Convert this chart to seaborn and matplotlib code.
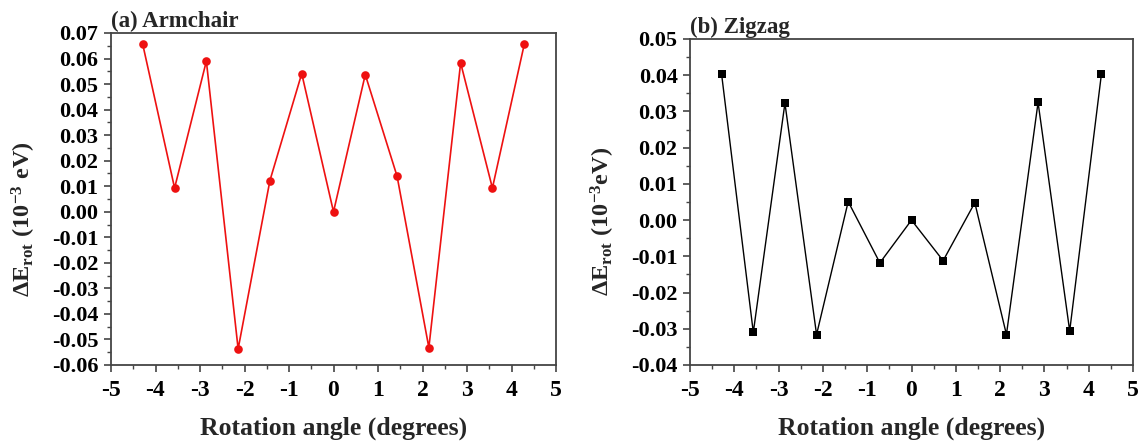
import numpy as np
import pandas as pd
import matplotlib
matplotlib.use("Agg")
import matplotlib.pyplot as plt
import seaborn as sns
from matplotlib.ticker import MultipleLocator, FormatStrFormatter

angles = [-4.286, -3.571, -2.857, -2.143, -1.429, -0.714, 0.0, 0.714, 1.429, 2.143, 2.857, 3.571, 4.286]
armchair = [0.0655, 0.0093, 0.0590, -0.0537, 0.0122, 0.0541, 0.0, 0.0537, 0.0139, -0.0532, 0.0583, 0.0093, 0.0655]
zigzag = [0.0402, -0.0310, 0.0323, -0.0316, 0.0051, -0.0118, 0.0, -0.0112, 0.0048, -0.0316, 0.0325, -0.0306, 0.0402]

sns.set_theme(style="ticks")
plt.rcParams['font.family'] = ['Liberation Serif', 'DejaVu Serif']
plt.rcParams['font.weight'] = 'bold'
plt.rcParams['axes.unicode_minus'] = False
plt.rcParams['mathtext.fontset'] = 'custom'
plt.rcParams['mathtext.rm'] = 'Liberation Serif:bold'
plt.rcParams['mathtext.bf'] = 'Liberation Serif:bold'
plt.rcParams['mathtext.it'] = 'Liberation Serif:bold'

W, H = 1140, 441
fig = plt.figure(figsize=(W / 100, H / 100), dpi=100)
ax1 = fig.add_axes([111 / W, 1 - 365 / H, (556 - 111) / W, (365 - 33) / H])
ax2 = fig.add_axes([690 / W, 1 - 365 / H, (1133 - 690) / W, (365 - 39) / H])

df1 = pd.DataFrame({"angle": angles, "E": armchair})
df2 = pd.DataFrame({"angle": angles, "E": zigzag})

sns.lineplot(data=df1, x="angle", y="E", ax=ax1, color="#ee1111", marker="o",
             markersize=6.2, markeredgewidth=0, linewidth=1.2)
sns.lineplot(data=df2, x="angle", y="E", ax=ax2, color="black", marker="s",
             markersize=5.3, markeredgewidth=0, linewidth=1.0)

ylabs = [r'$\mathbf{\Delta E_{rot}\ (10^{-3}\ eV)}$', r'$\mathbf{\Delta E_{rot}\ (10^{-3}eV)}$']
for ax, lims, title, ylab in [(ax1, (-0.06, 0.07), "(a) Armchair", ylabs[0]),
                              (ax2, (-0.04, 0.05), "(b) Zigzag", ylabs[1])]:
    ax.set_xlim(-5, 5)
    ax.set_ylim(*lims)
    ax.xaxis.set_major_locator(MultipleLocator(1))
    ax.xaxis.set_minor_locator(MultipleLocator(0.5))
    ax.yaxis.set_major_locator(MultipleLocator(0.01))
    ax.yaxis.set_minor_locator(MultipleLocator(0.005))
    ax.yaxis.set_major_formatter(FormatStrFormatter('%.2f'))
    ax.tick_params(which='major', direction='out', length=5, width=1.2, labelsize=16,
                   top=False, right=False, colors='#444444', labelcolor='black')
    ax.tick_params(which='minor', direction='out', length=3, width=1.0,
                   top=False, right=False, colors='#444444')
    ax.tick_params(axis='x', which='major', pad=6, labelsize=17)
    ax.tick_params(axis='y', which='major', pad=4)
    for lab in ax.get_xticklabels() + ax.get_yticklabels():
        lab.set_fontweight('bold')
    for s in ax.spines.values():
        s.set_linewidth(1.3)
        s.set_color('#444444')
    ax.set_xlabel("Rotation angle (degrees)", fontsize=18.5, fontweight='bold', labelpad=11)
    ax.set_ylabel(ylab, fontsize=17.5)
    ax.yaxis.set_label_coords(-0.165, 0.44)
    ax.text(0.0, 1.003, title, transform=ax.transAxes, ha='left', va='bottom',
            fontsize=16.5, fontweight='bold')

fig.savefig("out.png", dpi=100)
